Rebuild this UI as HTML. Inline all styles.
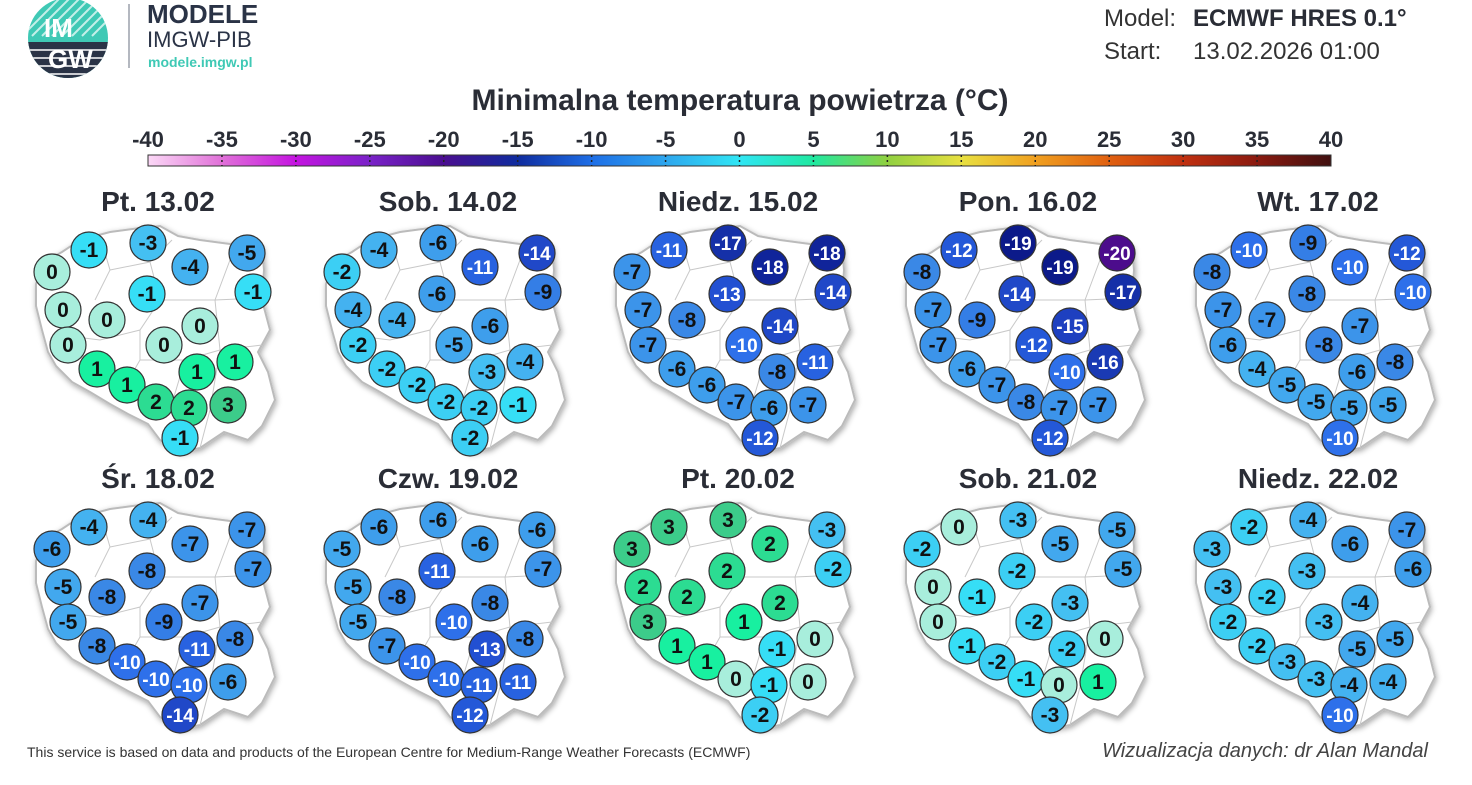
<!DOCTYPE html>
<html><head><meta charset="utf-8">
<style>
html,body{margin:0;padding:0;background:#fff;}
body{width:1472px;height:785px;overflow:hidden;font-family:"Liberation Sans",sans-serif;}
svg{display:block}
</style></head>
<body>
<svg id="s" width="1472" height="785" xmlns="http://www.w3.org/2000/svg" font-family="Liberation Sans, sans-serif">
<defs>
<linearGradient id="cb" x1="0" x2="1" y1="0" y2="0">
<stop offset="0" stop-color="#fbd8f6"/>
<stop offset="0.0625" stop-color="#e070d8"/>
<stop offset="0.125" stop-color="#c414e0"/>
<stop offset="0.1875" stop-color="#7a22c8"/>
<stop offset="0.25" stop-color="#4a0e90"/>
<stop offset="0.3125" stop-color="#0f2c9e"/>
<stop offset="0.375" stop-color="#1e6ee6"/>
<stop offset="0.4375" stop-color="#2ea6ee"/>
<stop offset="0.5" stop-color="#30e6f4"/>
<stop offset="0.5625" stop-color="#20e8a0"/>
<stop offset="0.625" stop-color="#90d040"/>
<stop offset="0.6875" stop-color="#e8e040"/>
<stop offset="0.75" stop-color="#f0a020"/>
<stop offset="0.8125" stop-color="#e06010"/>
<stop offset="0.875" stop-color="#c03010"/>
<stop offset="0.9375" stop-color="#8a1a10"/>
<stop offset="1" stop-color="#401010"/>
</linearGradient>
<filter id="sh" x="-10%" y="-10%" width="120%" height="120%"><feDropShadow dx="1" dy="2" stdDeviation="3" flood-color="#000" flood-opacity="0.35"/></filter>
<clipPath id="lc"><circle cx="68" cy="38" r="40"/></clipPath>
</defs>
<g clip-path="url(#lc)">
<rect x="28" y="-2" width="80" height="80" fill="#3fc9b5"/>
<g stroke="#ffffff" stroke-width="2" opacity="0.7">
<line x1="28" y1="20" x2="50" y2="-2"/><line x1="28" y1="30" x2="60" y2="-2"/><line x1="32" y1="36" x2="70" y2="-2"/><line x1="42" y1="36" x2="80" y2="-2"/><line x1="52" y1="36" x2="90" y2="-2"/><line x1="62" y1="36" x2="100" y2="-2"/><line x1="72" y1="36" x2="108" y2="0"/><line x1="82" y1="36" x2="108" y2="10"/><line x1="92" y1="36" x2="108" y2="20"/></g>
<rect x="28" y="42" width="80" height="40" fill="#2a3346"/>
<g stroke="#fff" stroke-width="1.5"><line x1="28" y1="50" x2="108" y2="50"/><line x1="28" y1="58" x2="108" y2="58"/><line x1="28" y1="66" x2="108" y2="66"/><line x1="28" y1="74" x2="108" y2="74"/></g>
</g>
<text x="44" y="37" font-size="26" font-weight="bold" fill="#fff">IM</text>
<text x="48" y="68" font-size="26" font-weight="bold" fill="#fff">GW</text>
<line x1="129" y1="4" x2="129" y2="68" stroke="#9aa0aa" stroke-width="1.5"/>
<text x="147" y="23" font-size="26" font-weight="bold" fill="#2a3346">MODELE</text>
<text x="147" y="47" font-size="22" fill="#2a3346">IMGW-PIB</text>
<text x="148" y="67" font-size="14" font-weight="bold" fill="#3fc9b5">modele.imgw.pl</text>
<text x="1104" y="26" font-size="24" fill="#333">Model:</text>
<text x="1193" y="26" font-size="24" font-weight="bold" fill="#2a2d36">ECMWF HRES 0.1°</text>
<text x="1104" y="59" font-size="24" fill="#333">Start:</text>
<text x="1193" y="59" font-size="24" fill="#333">13.02.2026 01:00</text>
<text x="740" y="110" font-size="30" font-weight="bold" fill="#2a2d36" text-anchor="middle">Minimalna temperatura powietrza (°C)</text>
<rect x="148" y="155" width="1183" height="11" fill="url(#cb)" stroke="#333" stroke-width="1"/>
<g id="cbl"></g>
<g id="maps"></g>
<text x="27" y="757" font-size="14" fill="#333">This service is based on data and products of the European Centre for Medium-Range Weather Forecasts (ECMWF)</text>
<text x="1428" y="757" font-size="20" font-style="italic" fill="#444" text-anchor="end">Wizualizacja danych: dr Alan Mandal</text>
</svg>
<script>
var NS="http://www.w3.org/2000/svg";
function el(t,a,p,txt){var e=document.createElementNS(NS,t);for(var k in a)e.setAttribute(k,a[k]);if(txt!==undefined)e.textContent=txt;p.appendChild(e);return e;}
var cbl=document.getElementById('cbl');
for(var v=-40;v<=40;v+=5){var x=148+(v+40)*1183/80;
el('text',{x:x,y:147,'font-size':22,'font-weight':'bold',fill:'#2a2d36','text-anchor':'middle'},cbl,String(v));
if(v>-40&&v<40)el('line',{x1:x,y1:155,x2:x,y2:166,stroke:'#222','stroke-width':1.5,'stroke-dasharray':'2,3'},cbl);}
var pos=[[89,250],[148,243],[247,253],[52,272],[190,267],[253,292],[63,310],[147,294],[107,320],[200,326],[68,345],[164,345],[97,369],[127,385],[197,372],[235,362],[156,402],[189,408],[228,405],[180,438]];
var data=[
["Pt. 13.02",[-1,-3,-5,0,-4,-1,0,-1,0,0,0,0,1,1,1,1,2,2,3,-1]],
["Sob. 14.02",[-4,-6,-14,-2,-11,-9,-4,-6,-4,-6,-2,-5,-2,-2,-3,-4,-2,-2,-1,-2]],
["Niedz. 15.02",[-11,-17,-18,-7,-18,-14,-7,-13,-8,-14,-7,-10,-6,-6,-8,-11,-7,-6,-7,-12]],
["Pon. 16.02",[-12,-19,-20,-8,-19,-17,-7,-14,-9,-15,-7,-12,-6,-7,-10,-16,-8,-7,-7,-12]],
["Wt. 17.02",[-10,-9,-12,-8,-10,-10,-7,-8,-7,-7,-6,-8,-4,-5,-6,-8,-5,-5,-5,-10]],
["Śr. 18.02",[-4,-4,-7,-6,-7,-7,-5,-8,-8,-7,-5,-9,-8,-10,-11,-8,-10,-10,-6,-14]],
["Czw. 19.02",[-6,-6,-6,-5,-6,-7,-5,-11,-8,-8,-5,-10,-7,-10,-13,-8,-10,-11,-11,-12]],
["Pt. 20.02",[3,3,-3,3,2,-2,2,2,2,2,3,1,1,1,-1,0,0,-1,0,-2]],
["Sob. 21.02",[0,-3,-5,-2,-5,-5,0,-2,-1,-3,0,-2,-1,-2,-2,0,-1,0,1,-3]],
["Niedz. 22.02",[-2,-4,-7,-3,-6,-6,-3,-3,-2,-4,-2,-3,-2,-3,-5,-5,-3,-4,-4,-10]]];
var col={"-20":"#4c0c8c","-19":"#0c1a8a","-18":"#10249a","-17":"#1530a8","-16":"#1a3ab4","-15":"#1e40c0","-14":"#2048c8","-13":"#2250d2","-12":"#2458d8","-11":"#2862e0","-10":"#2e70ea","-9":"#347ee6","-8":"#3a88e6","-7":"#3c94ea","-6":"#3e9eec","-5":"#42a8ee","-4":"#44b2f0","-3":"#44c0f2","-2":"#3ccff4","-1":"#36def6","0":"#a8eedc","1":"#18f0a0","2":"#2cdc92","3":"#3ccc8a"};
var outline="M44,262 L62,252 L80,240 L110,232 L140,228 L160,226 L178,236 L200,240 L230,244 L262,246 L264,270 L262,300 L270,330 L258,352 L268,372 L275,400 L262,426 L248,440 L224,432 L200,448 L180,452 L160,440 L148,424 L128,414 L110,404 L90,392 L72,382 L56,366 L48,352 L42,330 L36,306 L36,284 Z";
var inner="M100,236 L110,270 L95,300 M110,270 L150,262 L172,240 M150,262 L160,300 L140,330 L100,340 L60,335 M160,300 L215,300 L230,260 M215,300 L260,298 M215,300 L220,350 L262,345 M220,350 L185,360 L140,360 L120,395 M185,360 L170,410 M220,350 L210,410 L200,448 M140,330 L140,360";
var g=document.getElementById('maps');
data.forEach(function(d,i){var c=i%5,r=Math.floor(i/5);var dx=c*290,dy=r*277;
var gg=el('g',{transform:'translate('+dx+','+dy+')'},g);
el('text',{x:158,y:211,'font-size':28,'font-weight':'bold',fill:'#2a2d36','text-anchor':'middle'},gg,d[0]);
el('path',{d:outline,fill:'#fff',stroke:'#bbb','stroke-width':2,filter:'url(#sh)'},gg);
el('path',{d:inner,fill:'none',stroke:'#c8c8c8','stroke-width':1},gg);
d[1].forEach(function(v,k){var p=pos[k];
el('circle',{cx:p[0],cy:p[1],r:18,fill:col[String(v)],stroke:'#333','stroke-width':1.2},gg);
el('text',{x:p[0],y:p[1]+7,'font-size':v<=-10?19:21,'font-weight':'bold',fill:v<=-10?'#fff':'#111','text-anchor':'middle'},gg,String(v));});
});
</script>
</body></html>
